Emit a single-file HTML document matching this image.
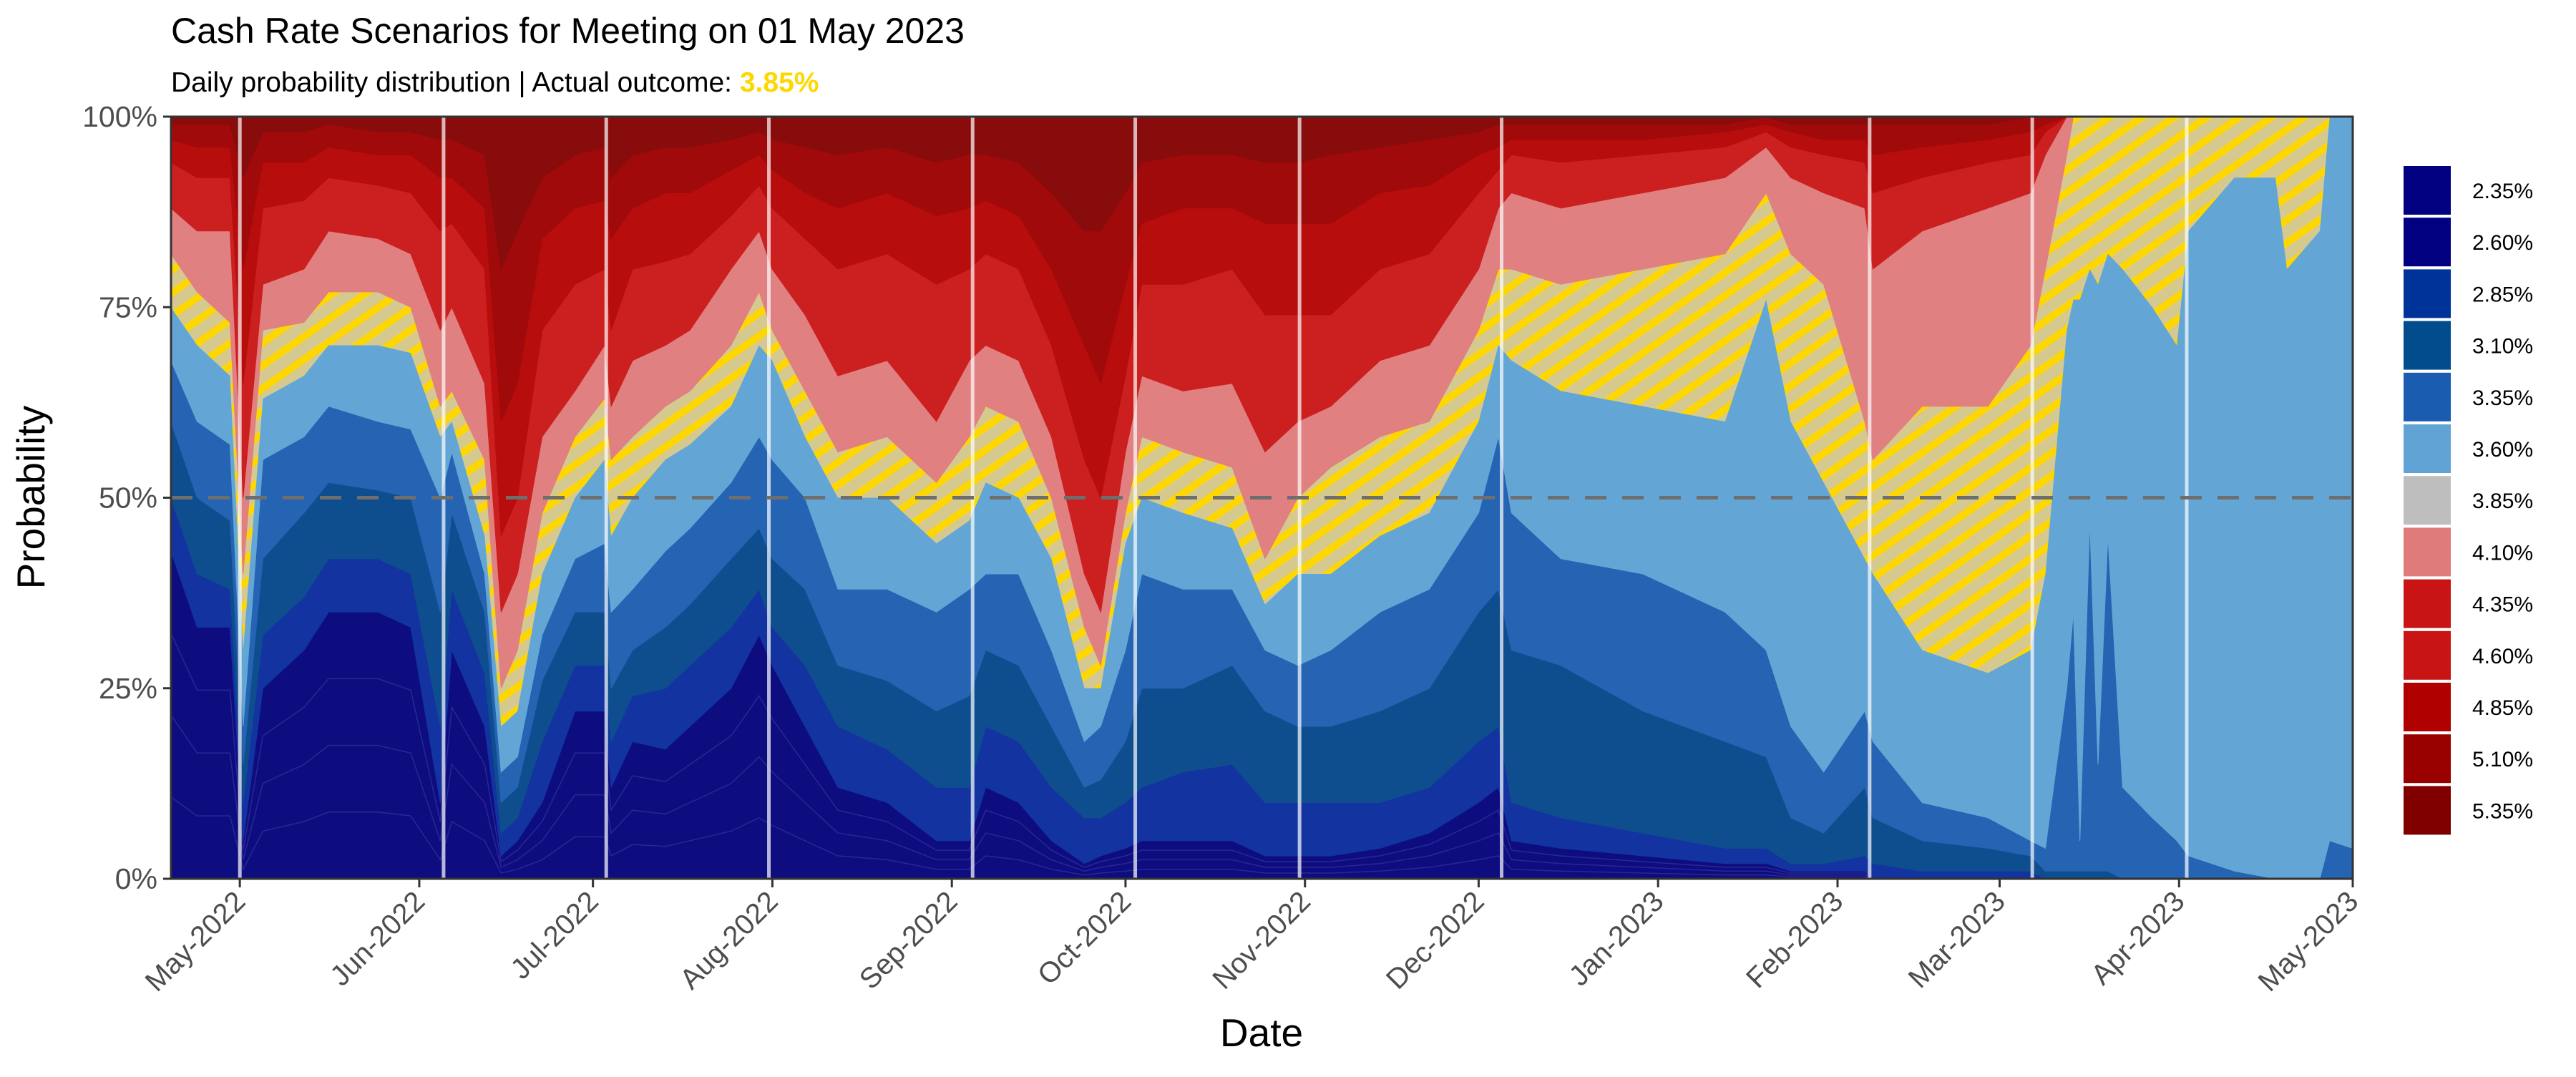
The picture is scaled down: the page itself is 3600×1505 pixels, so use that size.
<!DOCTYPE html>
<html><head><meta charset="utf-8"><style>
html,body{margin:0;padding:0;background:#fff;}
svg text{font-family:"Liberation Sans",sans-serif;}
</style></head><body>
<svg id="s" width="3600" height="1500" viewBox="0 0 3600 1500" xmlns="http://www.w3.org/2000/svg">
<defs>
<pattern id="hatch" patternUnits="userSpaceOnUse" width="26" height="26" patternTransform="rotate(-35)">
<rect width="26" height="26" fill="#d6c98f"/>
<rect width="26" height="10" fill="#ffd700"/>
</pattern>
<clipPath id="pc"><rect x="239" y="163" width="3049" height="1065"/></clipPath>
</defs>
<rect x="0" y="0" width="3600" height="1500" fill="#fff"/>
<text x="239" y="60" font-size="50" fill="#000">Cash Rate Scenarios for Meeting on 01 May 2023</text>
<text x="239" y="128" font-size="39" fill="#000">Daily probability distribution | Actual outcome: <tspan fill="#ffd700" font-weight="bold">3.85%</tspan></text>
<g id="areas" clip-path="url(#pc)"></g>
<g id="vl" clip-path="url(#pc)"></g>
<line x1="239" y1="695.5" x2="3288" y2="695.5" stroke="#6e6e6e" stroke-width="5" stroke-dasharray="30,22"/>
<rect x="239" y="163" width="3049" height="1065" fill="none" stroke="#333" stroke-width="3"/>
<g id="yax" font-size="41" fill="#4d4d4d" text-anchor="end"></g>
<g id="xax" font-size="40" fill="#4d4d4d" text-anchor="end"></g>
<text x="1763" y="1462" font-size="55" text-anchor="middle" fill="#000">Date</text>
<text transform="translate(62,695) rotate(-90)" font-size="55" text-anchor="middle" fill="#000">Probability</text>
<g id="leg" font-size="30" fill="#000"></g>
</svg>
<script>
(function(){
var K=[
[104,[43,50,60,68,75,82,88,94,97,99]],
[120,[33,40,50,60,70,77,85,92,96,99]],
[140,[33,38,47,57,66,73,85,92,96,99]],
[148,[5,10,15,20,30,40,50,65,80,92]],
[160,[25,32,42,55,63,72,78,88,94,98]],
[185,[30,37,48,58,66,73,80,89,94,98]],
[200,[35,42,52,62,70,77,85,92,96,99]],
[230,[35,42,51,60,70,77,84,91,95,98]],
[250,[33,40,50,59,69,75,82,90,95,98]],
[268,[10,20,35,50,58,62,72,85,92,97]],
[275,[30,38,48,56,60,64,75,86,92,97]],
[295,[20,27,35,40,45,55,65,80,88,95]],
[305,[3,6,10,14,20,25,35,45,60,80]],
[315,[5,8,12,16,22,30,40,50,65,85]],
[330,[10,18,26,32,40,48,58,72,84,92]],
[350,[22,28,35,42,50,58,64,78,88,95]],
[368,[22,28,35,44,55,63,70,80,89,96]],
[372,[12,18,25,35,45,55,62,72,84,92]],
[385,[18,24,30,38,50,58,68,80,88,95]],
[405,[17,25,33,43,55,62,70,81,90,96]],
[420,[20,28,36,46,57,64,72,82,90,96]],
[445,[25,33,42,52,62,70,80,87,93,97]],
[462,[32,38,46,58,70,77,85,91,95,98]],
[470,[28,33,42,55,68,72,80,88,93,97]],
[490,[20,28,38,50,58,64,74,84,90,96]],
[510,[12,20,28,38,50,56,66,80,88,95]],
[540,[10,17,26,38,50,58,68,82,90,96]],
[570,[5,12,22,35,44,52,60,78,87,94]],
[590,[5,12,24,38,47,58,68,80,88,95]],
[600,[12,20,30,40,52,62,70,82,89,95]],
[620,[10,18,28,40,50,60,68,80,87,94]],
[640,[5,12,20,30,42,50,58,70,80,90]],
[660,[2,8,12,18,25,33,40,55,70,85]],
[670,[3,8,13,20,25,28,35,50,65,85]],
[685,[4,10,18,30,44,48,56,66,78,90]],
[695,[5,12,25,40,50,58,66,78,86,94]],
[720,[5,14,25,38,48,56,64,78,88,95]],
[750,[5,15,28,38,46,54,65,80,88,95]],
[770,[3,10,22,30,36,42,56,74,86,94]],
[790,[3,10,20,28,40,50,60,74,86,94]],
[810,[3,10,20,30,40,54,62,74,86,95]],
[840,[4,10,22,35,45,58,68,80,90,96]],
[870,[6,12,25,38,48,60,70,82,91,97]],
[900,[10,18,35,48,60,72,80,90,95,98]],
[912,[12,20,38,58,70,80,88,93,96,99]],
[920,[5,10,30,48,68,80,90,95,97,99]],
[950,[4,8,28,42,64,78,88,94,97,99]],
[1000,[3,6,22,40,62,80,90,95,97,99]],
[1050,[2,4,18,35,60,82,92,96,98,99]],
[1075,[2,4,16,30,76,90,96,98,99,100]],
[1090,[1,2,8,20,60,82,92,96,98,99]],
[1110,[1,2,6,14,52,78,90,95,97,99]],
[1135,[1,3,12,22,42,60,88,94,97,99]],
[1140,[0,2,8,18,40,55,80,90,95,99]],
[1170,[0,1,5,10,30,62,85,92,96,99]],
[1210,[0,1,4,8,27,62,88,94,97,99]],
[1236,[0,1,3,5,30,70,90,95,98,100]],
[1245,[0,0,1,4,40,80,95,98,99,100]],
[1258,[0,0,1,25,72,95,100,100,100,100]],
[1262,[0,0,1,35,76,100,100,100,100,100]],
[1266,[0,0,1,5,76,100,100,100,100,100]],
[1272,[0,0,1,47,80,100,100,100,100,100]],
[1277,[0,0,1,15,78,100,100,100,100,100]],
[1283,[0,0,1,45,82,100,100,100,100,100]],
[1292,[0,0,0,12,80,100,100,100,100,100]],
[1310,[0,0,0,8,75,100,100,100,100,100]],
[1325,[0,0,0,5,70,100,100,100,100,100]],
[1332,[0,0,0,3,85,100,100,100,100,100]],
[1360,[0,0,0,1,92,100,100,100,100,100]],
[1385,[0,0,0,0,92,100,100,100,100,100]],
[1392,[0,0,0,0,80,100,100,100,100,100]],
[1412,[0,0,0,0,85,100,100,100,100,100]],
[1418,[0,0,0,5,100,100,100,100,100,100]],
[1432,[0,0,0,4,100,100,100,100,100,100]]
];
var cols=["#0d0d80","#1233a0","#0f4e8e","#2563b3","#63a6d6","url(#hatch)","#e08080","#cc1f1f","#b80d0d","#a00a0a","#880c0c"];
var S=2.296;
function X(x){return x*S;}
function Y(p){return 1228-p/100*1065;}
var g=document.getElementById('areas'),ns="http://www.w3.org/2000/svg";
function tops(i){return K.map(function(k){return i<10?k[1][i]:100;});}
for(var L=0;L<11;L++){
 var tp=tops(L),bt=L==0?K.map(function(){return 0;}):tops(L-1);
 var d="M"+K.map(function(k,j){return X(k[0]).toFixed(1)+","+Y(tp[j]).toFixed(1);}).join(" L");
 for(var j=K.length-1;j>=0;j--)d+=" L"+X(K[j][0]).toFixed(1)+","+Y(bt[j]).toFixed(1);
 d+="Z";
 var p=document.createElementNS(ns,"path");p.setAttribute("d",d);p.setAttribute("fill",cols[L]);
 if(L!=5){p.setAttribute("stroke",cols[L]);p.setAttribute("stroke-width","1");}
 g.appendChild(p);
}
[0.25,0.5,0.75].forEach(function(f){
 var d="M"+K.map(function(k){return X(k[0]).toFixed(1)+","+Y(k[1][0]*f).toFixed(1);}).join(" L");
 var p=document.createElementNS(ns,"path");p.setAttribute("d",d);p.setAttribute("fill","none");
 p.setAttribute("stroke","#3a3aa0");p.setAttribute("stroke-width","1.5");p.setAttribute("opacity","0.6");g.appendChild(p);
});
var vl=document.getElementById('vl');
[146,270,369,468,592,691,791,914,1138,1237,1331].forEach(function(x){
 var l=document.createElementNS(ns,"line");l.setAttribute("x1",X(x));l.setAttribute("x2",X(x));
 l.setAttribute("y1",163);l.setAttribute("y2",1228);l.setAttribute("stroke","#fff");l.setAttribute("stroke-width","5");l.setAttribute("opacity","0.7");vl.appendChild(l);
});
var ya=document.getElementById('yax');
[0,25,50,75,100].forEach(function(p){
 var y=Y(p);
 ya.innerHTML+='<text x="220" y="'+(y+14)+'">'+p+'%</text><line x1="228" x2="239" y1="'+y+'" y2="'+y+'" stroke="#333" stroke-width="3"/>';
});
var xa=document.getElementById('xax');
var m=["May-2022","Jun-2022","Jul-2022","Aug-2022","Sep-2022","Oct-2022","Nov-2022","Dec-2022","Jan-2023","Feb-2023","Mar-2023","Apr-2023","May-2023"];
var off=[0,31,61,92,123,153,184,214,245,276,304,335,365];
m.forEach(function(t,i){
 var x=3288-(365-off[i])*8.09;
 xa.innerHTML+='<line x1="'+x+'" x2="'+x+'" y1="1228" y2="1240" stroke="#333" stroke-width="3"/><text transform="translate('+(x+10)+',1262) rotate(-45)">'+t+'</text>';
});
var lg=document.getElementById('leg');
var lc=["#000080","#000080","#003399","#004c8c","#1a5cb0","#62a3d5","#bebebe","#e07b7b","#c81414","#c81414","#b00000","#990000","#800000"];
var ll=["2.35%","2.60%","2.85%","3.10%","3.35%","3.60%","3.85%","4.10%","4.35%","4.60%","4.85%","5.10%","5.35%"];
for(var i=0;i<13;i++){
 var y=232+i*72.2;
 lg.innerHTML+='<rect x="3359" y="'+y+'" width="66" height="68" fill="'+lc[i]+'"/><text x="3455" y="'+(y+45)+'">'+ll[i]+'</text>';
}
})();
</script>
</body></html>
